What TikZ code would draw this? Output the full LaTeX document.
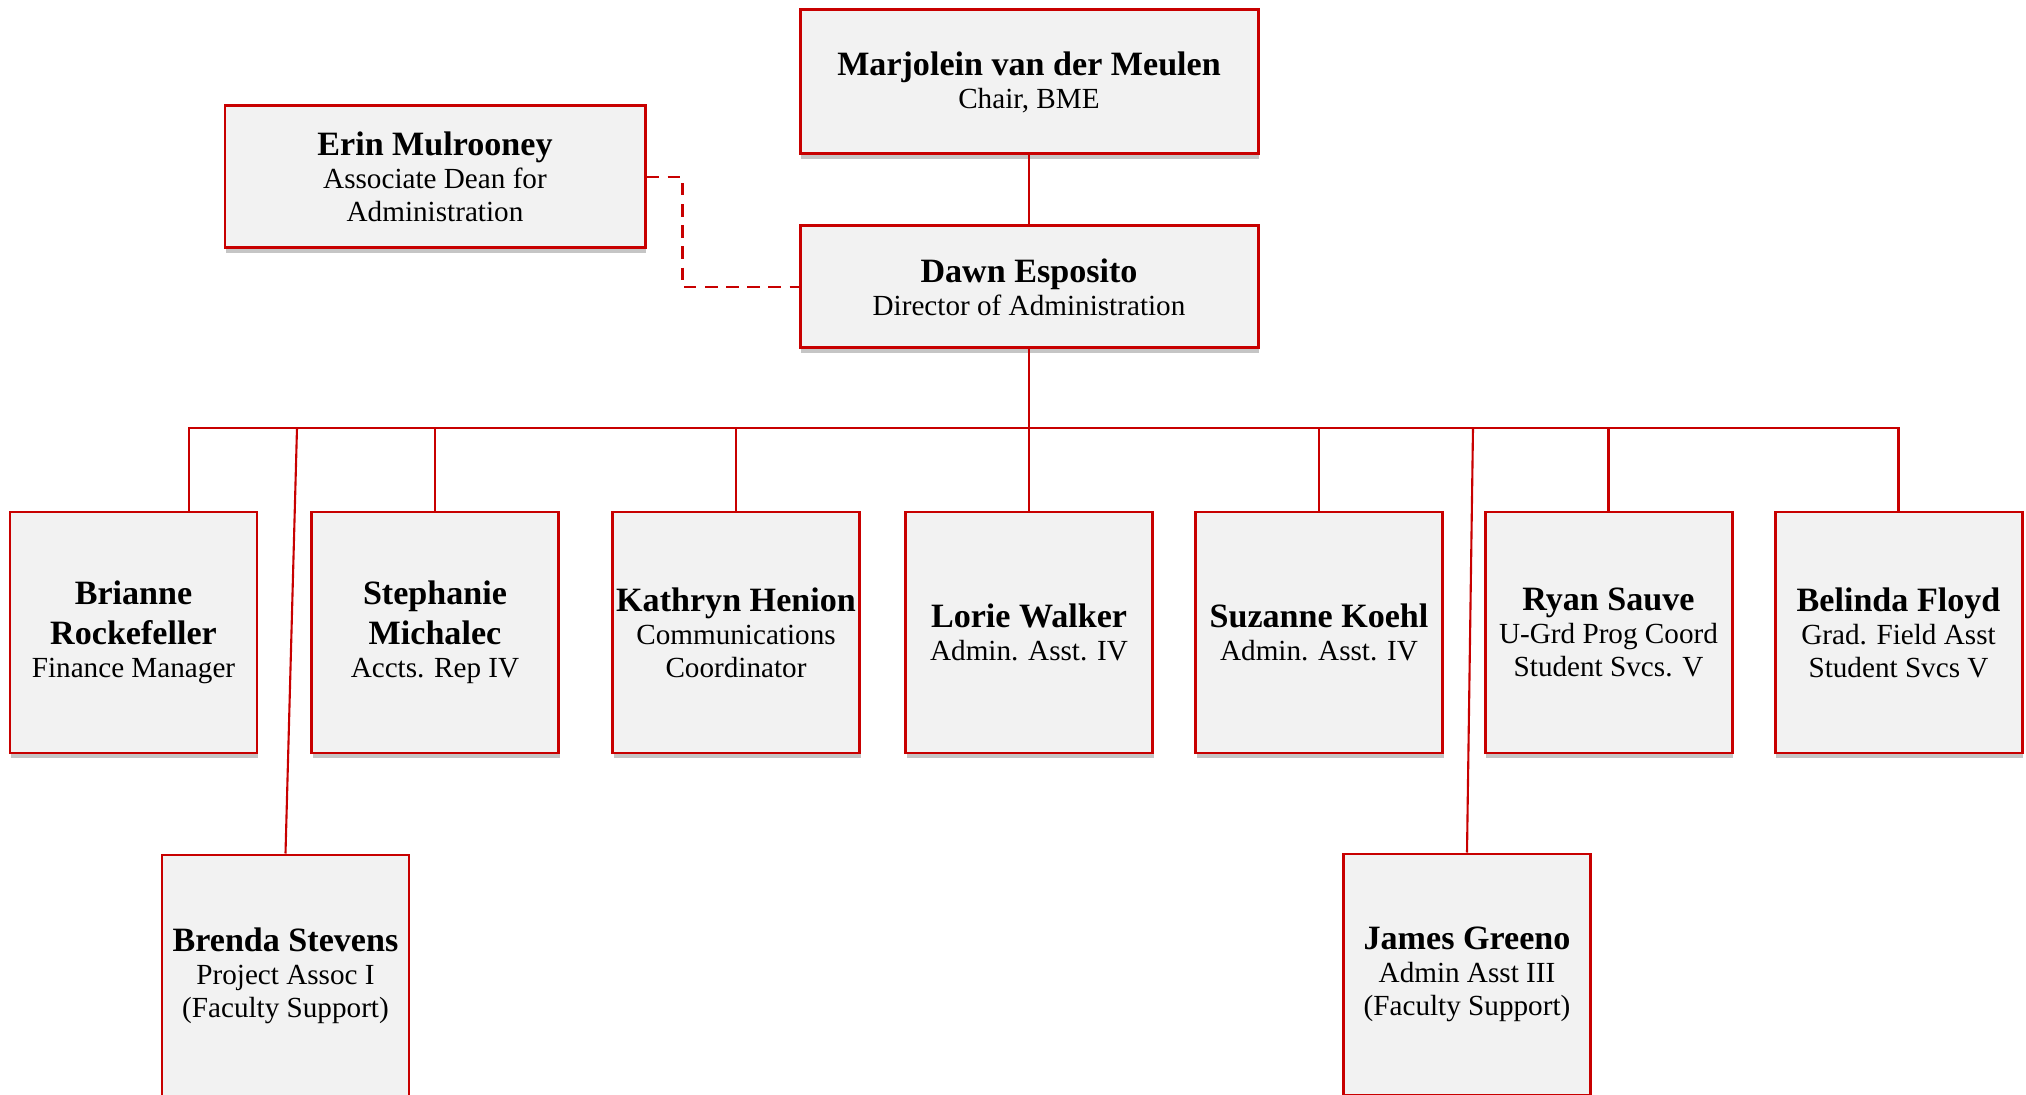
\documentclass[tikz,border=0pt]{standalone}
\usepackage{fontspec}
\setmainfont{Liberation Serif}
\usetikzlibrary{shadows}
\definecolor{boxred}{RGB}{200,0,0}
\definecolor{boxfill}{RGB}{242,242,242}
\newcommand{\nm}[1]{{\fontsize{9.7}{9.4}\selectfont\bfseries #1}}

\begin{document}
\begin{tikzpicture}[
  staff/.style={draw=boxred, line width=0.85pt, fill=boxfill, align=center, inner sep=1pt,
    font=\fontsize{8.3}{9.4}\selectfont,
    drop shadow={shadow xshift=0.3pt, shadow yshift=-1.5pt, fill=black!45, opacity=0.5}},
  headbox/.style={staff, minimum width=4.58cm},
  rowbox/.style={staff, minimum width=2.47cm, minimum height=2.41cm},
  link/.style={draw=boxred, line width=0.6pt}]
\useasboundingbox (0,0) rectangle (20.26,-10.95);

\node[headbox, minimum height=1.44cm] (chair) at (10.29,-0.82) {\nm{Marjolein van der Meulen}\\Chair, BME};
\node[headbox, minimum height=1.22cm] (director) at (10.29,-2.87) {\nm{Dawn Esposito}\\Director of Administration};
\node[staff, minimum width=4.20cm, minimum height=1.42cm] (dean) at (4.35,-1.77) {\nm{Erin Mulrooney}\\Associate Dean for\\Administration};

\node[rowbox] (finance) at (1.335,-6.325) {\nm{Brianne}\\[2pt]\nm{Rockefeller}\\Finance Manager};
\node[rowbox] (accts) at (4.35,-6.325) {\nm{Stephanie}\\[2pt]\nm{Michalec}\\Accts. Rep IV};
\node[rowbox] (comms) at (7.36,-6.325) {\nm{Kathryn Henion}\\Communications\\Coordinator};
\node[rowbox] (adminA) at (10.29,-6.325) {\nm{Lorie Walker}\\Admin. Asst. IV};
\node[rowbox] (adminB) at (13.19,-6.325) {\nm{Suzanne Koehl}\\Admin. Asst. IV};
\node[rowbox] (ugrad) at (16.085,-6.325) {\nm{Ryan Sauve}\\U-Grd Prog Coord\\Student Svcs. V};
\node[rowbox] (grad) at (18.985,-6.325) {\nm{Belinda Floyd}\\Grad. Field Asst\\Student Svcs V};
\node[rowbox] (project) at (2.855,-9.755) {\nm{Brenda Stevens}\\Project Assoc I\\(Faculty Support)};
\node[rowbox] (support) at (14.67,-9.745) {\nm{James Greeno}\\Admin Asst III\\(Faculty Support)};

\coordinate (bus) at (10.29,-4.28);
\coordinate (busB) at (2.97,-4.28);
\coordinate (busJ) at (14.73,-4.28);

\draw[link] (chair) -- (director);
\draw[link, dash pattern=on 3.5pt off 2.5pt] (dean.east) -- ++(0.36,0) |- (director.west);
\draw[link] (director.south) -- (bus);
\draw[link] (bus) -| ([xshift=0.555cm]finance.north);
\draw[link] (bus) -| (accts.north);
\draw[link] (bus) -| (comms.north);
\draw[link] (bus) -- (adminA.north);
\draw[link] (bus) -| (adminB.north);
\draw[link] (bus) -| (ugrad.north);
\draw[link] (bus) -| (grad.north);
\draw[link] (busB) -- (project.north);
\draw[link] (busJ) -- (support.north);
\end{tikzpicture}
\end{document}
